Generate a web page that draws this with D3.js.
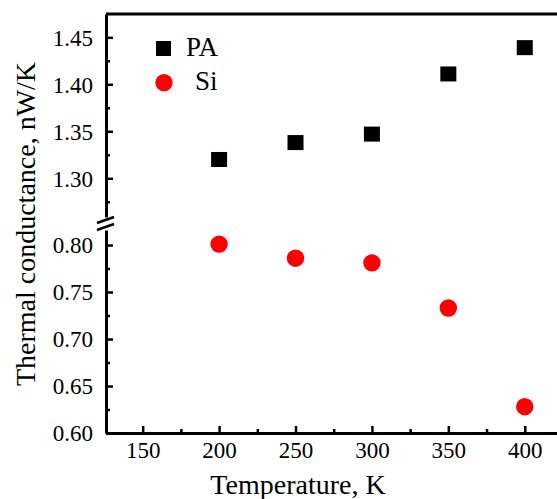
<!DOCTYPE html>
<html>
<head>
<meta charset="utf-8">
<script src="https://cdn.jsdelivr.net/npm/d3@7"></script>
<style>
  html, body { margin: 0; padding: 0; background: #fff; }
  svg { display: block; }
  svg text { font-family: "Times New Roman", "Liberation Serif", "DejaVu Serif", serif !important; }
</style>
</head>
<body>
<svg id="chart" width="557" height="499"></svg>
<script>
// ---- data ----
const temperatures = [200, 250, 300, 350, 400];
const paValues = [1.320, 1.338, 1.347, 1.411, 1.439];
const siValues = [0.801, 0.786, 0.781, 0.733, 0.628];
const seriesNames = ["PA", "Si"];
const xTicks = [150, 200, 250, 300, 350, 400];
const xMinorTicks = [175, 225, 275, 325, 375];
const yUpperTicks = [1.30, 1.35, 1.40, 1.45];
const yUpperMinor = [1.275, 1.325, 1.375, 1.425];
const yLowerTicks = [0.60, 0.65, 0.70, 0.75, 0.80];
const yLowerMinor = [0.625, 0.675, 0.725, 0.775];
const xTitle = "Temperature, K";
const yTitle = "Thermal conductance, nW/K";

// ---- layout ----
const FONT = "Liberation Serif";
const svg = d3.select("#chart");
const pLeft = 106, pRight = 557, pTop = 14, pBottom = 433;
const upperBottom = 217, lowerTop = 230;

const x = d3.scaleLinear().domain([126, 421.1]).range([pLeft, pRight]);
const yU = d3.scaleLinear().domain([1.2588, 1.4748]).range([upperBottom, pTop]);
const yL = d3.scaleLinear().domain([0.60, 0.816]).range([pBottom, lowerTop]);

const fmt2 = d3.format(".2f");
const lw = 3;

function styleAxis(g) {
  g.attr("font-family", FONT);
  g.selectAll("path.domain").attr("stroke", "#000").attr("stroke-width", lw);
  g.selectAll(".tick line").attr("stroke", "#000").attr("stroke-width", 2.5);
  g.selectAll("text").attr("font-family", FONT).attr("font-size", 23).attr("fill", "#000");
}

// top border
svg.append("line")
  .attr("x1", pLeft).attr("x2", pRight).attr("y1", pTop).attr("y2", pTop)
  .attr("stroke", "#000").attr("stroke-width", lw);

// x axis
const gx = svg.append("g").attr("transform", `translate(0,${pBottom})`)
  .call(d3.axisBottom(x).tickValues(xTicks).tickSize(-7).tickSizeOuter(0).tickPadding(10).tickFormat(d3.format("d")));
styleAxis(gx);
gx.selectAll("text").attr("dy", null).attr("y", 25);
const gxm = svg.append("g").attr("transform", `translate(0,${pBottom})`)
  .call(d3.axisBottom(x).tickValues(xMinorTicks).tickSize(-4).tickSizeOuter(0).tickFormat(""));
styleAxis(gxm);
gxm.select("path.domain").remove();

// y axes (broken)
function yAxis(scale, major, minor) {
  const g = svg.append("g").attr("transform", `translate(${pLeft},0)`)
    .call(d3.axisLeft(scale).tickValues(major).tickSize(-7).tickSizeOuter(0).tickPadding(13).tickFormat(fmt2));
  styleAxis(g);
  g.selectAll("text").attr("dy", "0.34em");
  const gm = svg.append("g").attr("transform", `translate(${pLeft},0)`)
    .call(d3.axisLeft(scale).tickValues(minor).tickSize(-4).tickSizeOuter(0).tickFormat(""));
  styleAxis(gm);
  gm.select("path.domain").remove();
}
yAxis(yU, yUpperTicks, yUpperMinor);
yAxis(yL, yLowerTicks, yLowerMinor);

// break marks
[220, 227].forEach(cy => {
  svg.append("line")
    .attr("x1", pLeft - 9).attr("y1", cy + 3)
    .attr("x2", pLeft + 8).attr("y2", cy - 3)
    .attr("stroke", "#000").attr("stroke-width", 2.5);
});

// data points
svg.append("g").selectAll("rect")
  .data(temperatures.map((t, i) => ({ t, v: paValues[i] })))
  .join("rect")
  .attr("x", d => x(d.t) - 8).attr("y", d => yU(d.v) - 7.5)
  .attr("width", 16).attr("height", 15)
  .attr("fill", "#000");

svg.append("g").selectAll("circle")
  .data(temperatures.map((t, i) => ({ t, v: siValues[i] })))
  .join("circle")
  .attr("cx", d => x(d.t)).attr("cy", d => yL(d.v))
  .attr("r", 8.7)
  .attr("fill", "#ff0000");

// legend
svg.append("rect").attr("x", 156).attr("y", 41).attr("width", 15).attr("height", 15).attr("fill", "#000");
svg.append("text").attr("x", 186).attr("y", 56).attr("font-size", 27).text(seriesNames[0]);
svg.append("circle").attr("cx", 164).attr("cy", 82.7).attr("r", 8.7).attr("fill", "#ff0000");
svg.append("text").attr("x", 195).attr("y", 89.5).attr("font-size", 27).text(seriesNames[1]);

// titles
svg.append("text")
  .attr("x", (208 + 388) / 2).attr("y", 494)
  .attr("text-anchor", "middle").attr("font-size", 28)
  .text(xTitle);
svg.append("text")
  .attr("transform", "translate(35,224) rotate(-90)")
  .attr("text-anchor", "middle").attr("font-size", 28)
  .text(yTitle);
</script>
</body>
</html>
